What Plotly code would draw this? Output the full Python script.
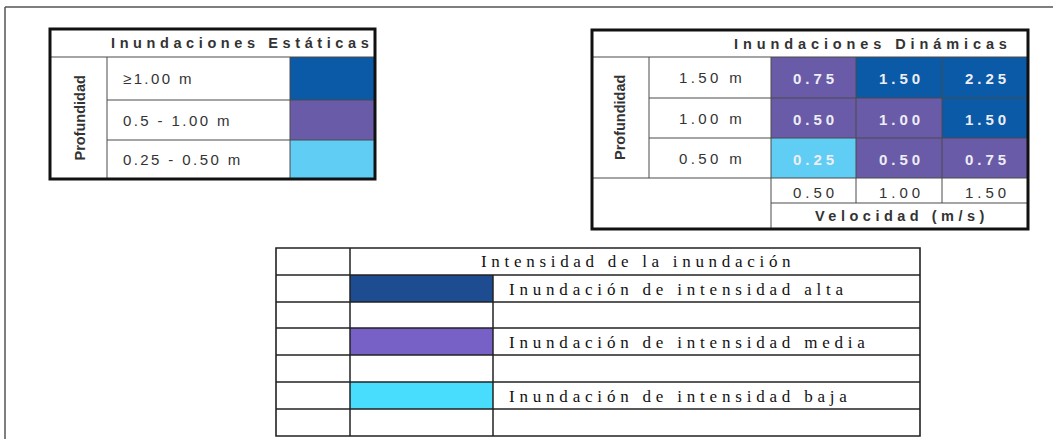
import plotly.graph_objects as go

# ---------------- data ----------------
static_title = "Inundaciones Estáticas"
static_labels = ["≥1.00 m", "0.5 - 1.00 m", "0.25 - 0.50 m"]
static_levels = ["alta", "media", "baja"]

dyn_title = "Inundaciones Dinámicas"
depth_labels = ["1.50 m", "1.00 m", "0.50 m"]
velocity_labels = ["0.50", "1.00", "1.50"]
dyn_values = [[0.75, 1.50, 2.25],
              [0.50, 1.00, 1.50],
              [0.25, 0.50, 0.75]]
dyn_levels = [["media", "alta", "alta"],
              ["media", "media", "alta"],
              ["baja", "media", "media"]]
axis_depth = "Profundidad"
axis_velocity = "Velocidad (m/s)"

legend_title = "Intensidad de la inundación"
legend_levels = ["alta", "media", "baja"]
legend_labels = ["Inundación de intensidad alta",
                 "Inundación de intensidad media",
                 "Inundación de intensidad baja"]

# ---------------- styles / geometry ----------------
table_colors = {"alta": "#0b5aa7", "media": "#6a5ba8", "baja": "#60cdf4"}
legend_colors = {"alta": "#1d4c91", "media": "#7761c6", "baja": "#48dcfd"}

SX = [50, 107, 290, 375]
SY = [29, 57, 100, 140, 179]
DX = [592, 649, 771, 856, 942, 1028]
DY = [30, 57, 98, 138, 178, 203, 229]
LX = [276, 350, 493, 920]
LY = [248, 275, 302, 328, 355, 382, 409, 436]

SANS = "Liberation Sans, Arial, sans-serif"
SERIF = "Liberation Serif, Times New Roman, serif"
GRID = "#4a4a4a"

shapes = []
annotations = []


def rect(x0, y0, x1, y1, fill=None, line_color=None, lw=0, layer="below"):
    shapes.append(dict(type="rect", xref="x", yref="y", x0=x0, y0=y0, x1=x1, y1=y1,
                       fillcolor=fill if fill else "rgba(0,0,0,0)",
                       line=dict(color=line_color if line_color else "rgba(0,0,0,0)", width=lw),
                       layer=layer))


def line(x0, y0, x1, y1, color=GRID, lw=1):
    shapes.append(dict(type="line", xref="x", yref="y", x0=x0, y0=y0, x1=x1, y1=y1,
                       line=dict(color=color, width=lw), layer="above"))


def text(x, y, s, size=14, color="#333333", family=SANS, weight="normal",
         ls=0, xanchor="center", angle=0):
    if ls:
        s = f'<span style="letter-spacing:{ls}px">{s}</span>'
    annotations.append(dict(x=x, y=y, xref="x", yref="y", text=s, showarrow=False,
                            xanchor=xanchor, yanchor="middle", textangle=angle,
                            font=dict(size=size, color=color, family=family, weight=weight)))


# outer frame
line(5, 439, 5, 7, color="#555555", lw=1.5)
line(5, 7, 1053, 7, color="#555555", lw=1.5)

# ---------- static table ----------
for i, lvl in enumerate(static_levels):
    rect(SX[2], SY[i + 1], SX[3], SY[i + 2], fill=table_colors[lvl])
line(SX[0], SY[1], SX[3], SY[1])
for i in range(2, 4):
    line(SX[1], SY[i], SX[3], SY[i])
line(SX[1], SY[1], SX[1], SY[4])
line(SX[2], SY[1], SX[2], SY[4])
rect(SX[0], SY[0], SX[3], SY[4], line_color="#111111", lw=3, layer="above")

text((SX[1] + SX[3]) / 2 + 1, (SY[0] + SY[1]) / 2, static_title, size=14.5, weight="bold", ls=4.6)
for i, lab in enumerate(static_labels):
    text(SX[1] + 14, (SY[i + 1] + SY[i + 2]) / 2, lab, size=15, ls=2.4, xanchor="left")
text((SX[0] + SX[1]) / 2 + 1, (SY[1] + SY[4]) / 2, axis_depth, size=14.5,
     weight="bold", angle=-90)

# ---------- dynamic table ----------
for r in range(3):
    for c in range(3):
        rect(DX[2 + c], DY[1 + r], DX[3 + c], DY[2 + r], fill=table_colors[dyn_levels[r][c]])
line(DX[0], DY[1], DX[5], DY[1])
line(DX[1], DY[2], DX[5], DY[2])
line(DX[1], DY[3], DX[5], DY[3])
line(DX[0], DY[4], DX[5], DY[4])
line(DX[2], DY[5], DX[5], DY[5])
line(DX[1], DY[1], DX[1], DY[4])
line(DX[2], DY[1], DX[2], DY[6])
line(DX[3], DY[1], DX[3], DY[5])
line(DX[4], DY[1], DX[4], DY[5])
rect(DX[0], DY[0], DX[5], DY[6], line_color="#111111", lw=3, layer="above")

text(1014, (DY[0] + DY[1]) / 2, dyn_title, size=14.5, weight="bold", ls=4.9, xanchor="right")
text((DX[0] + DX[1]) / 2 - 1, (DY[1] + DY[4]) / 2, axis_depth, size=14.5,
     weight="bold", angle=-90)
for r, lab in enumerate(depth_labels):
    text((DX[1] + DX[2]) / 2 + 2, (DY[1 + r] + DY[2 + r]) / 2, lab, size=15, ls=3.4)
for r in range(3):
    for c in range(3):
        text((DX[2 + c] + DX[3 + c]) / 2 + 2, (DY[1 + r] + DY[2 + r]) / 2 + 1,
             f"{dyn_values[r][c]:.2f}", size=15, weight="bold", color="#eeeef6", ls=4)
for c, lab in enumerate(velocity_labels):
    text((DX[2 + c] + DX[3 + c]) / 2 + 2, (DY[4] + DY[5]) / 2 + 2, lab, size=15, ls=4)
text((DX[2] + DX[5]) / 2 + 2, (DY[5] + DY[6]) / 2, axis_velocity, size=14.5, weight="bold", ls=4.5)

# ---------- legend table ----------
for i, lvl in enumerate(legend_levels):
    rect(LX[1], LY[1 + 2 * i], LX[2], LY[2 + 2 * i], fill=legend_colors[lvl])
for y in LY[1:-1]:
    line(LX[0], y, LX[3], y, color="#222222", lw=1.3)
line(LX[1], LY[0], LX[1], LY[-1], color="#222222", lw=1.5)
line(LX[2], LY[1], LX[2], LY[-1], color="#222222", lw=1.5)
rect(LX[0], LY[0], LX[3], LY[-1], line_color="#222222", lw=1.6, layer="above")

text(638, (LY[0] + LY[1]) / 2, legend_title, size=17, color="#111111", family=SERIF, ls=4.7)
for i, lab in enumerate(legend_labels):
    text(LX[2] + 14, (LY[1 + 2 * i] + LY[2 + 2 * i]) / 2 + 1, lab, size=17, color="#111111",
         family=SERIF, ls=4.8, xanchor="left")

fig = go.Figure()
fig.update_layout(
    width=1053, height=439,
    margin=dict(l=0, r=0, t=0, b=0),
    paper_bgcolor="white", plot_bgcolor="white",
    xaxis=dict(range=[0, 1053], visible=False, fixedrange=True),
    yaxis=dict(range=[439, 0], visible=False, fixedrange=True),
    shapes=shapes, annotations=annotations, showlegend=False,
)
fig.write_html("out.html", config={"displayModeBar": False},
               post_script="document.body.style.margin='0';document.body.style.overflow='hidden';")
